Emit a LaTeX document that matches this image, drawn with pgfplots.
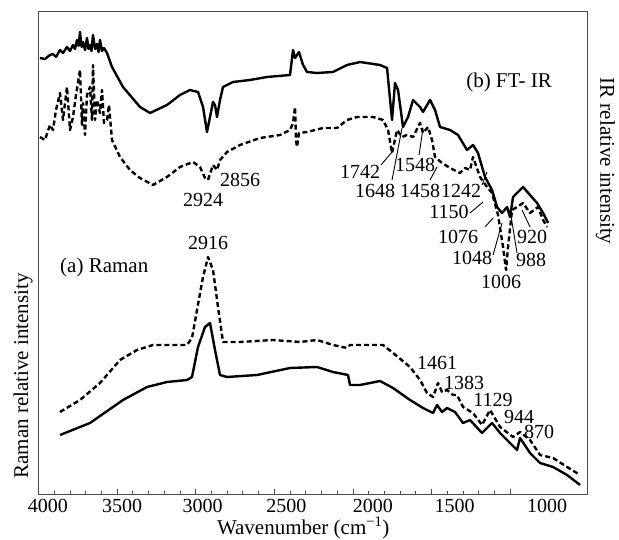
\documentclass[border=0pt]{standalone}
\usepackage{pgfplots}
\pgfplotsset{compat=1.18}
\usepackage{fontspec}
\setmainfont{Liberation Serif}
\newcommand{\lbl}{\fontsize{20bp}{24bp}\selectfont}
\newcommand{\txt}{\fontsize{21bp}{25bp}\selectfont}
\newcommand{\sh}[2]{\makebox[0pt]{\hspace*{#1}#2}}
\begin{document}
\begin{tikzpicture}
\begin{axis}[
  scale only axis, width=549.5bp, height=483bp,
  x dir=reverse, xmin=505, xmax=4000, ymin=0, ymax=483,
  axis line style={black!70, line width=1bp},
  xtick={1000,1500,2000,2500,3000,3500,4000},
  xticklabels={\sh{74bp}{1000},\sh{46bp}{1500},\sh{40bp}{2000},\sh{24bp}{2500},\sh{14bp}{3000},\sh{10bp}{3500},\sh{19bp}{4000}},
  minor x tick num=4,
  ytick=\empty,
  tick pos=bottom, tick align=inside,
  major tick length=6bp, minor tick length=3.5bp,
  tick style={black!70, line width=0.8bp},
  ticklabel style={font=\lbl},
  xticklabel style={inner sep=1bp, yshift=-3bp},
  xlabel={Wavenumber (cm\textsuperscript{−1})},
  xlabel style={font=\txt, inner sep=1bp, at={(axis description cs:0.5,0)}, anchor=base, xshift=-10bp, yshift=-39bp},
  clip=false,
  every axis plot/.append style={line width=2.4bp, line join=round},
]
% IR, solid
\addplot[black] coordinates {
(3990.5,437) (3958.7,436) (3926.9,440) (3907.8,441) (3888.7,438) (3863.2,445) (3844.2,442)
(3818.7,448) (3799.6,444) (3780.5,450) (3768.0,446) (3755.1,455) (3745.0,449) (3736.0,463)
(3726.0,448) (3716.9,453) (3704.0,445) (3691.5,457) (3682.0,446) (3672.4,450) (3663.0,444)
(3653.3,460) (3640.0,446) (3627.9,451) (3618.0,443) (3608.8,455) (3596.0,444) (3583.4,447)
(3564.3,442) (3532.5,428) (3462.5,408) (3354.4,388) (3290.8,382) (3182.6,390) (3099.9,400)
(3036.3,405) (2985.4,403) (2953.6,388) (2928.2,363) (2909.1,378) (2890.0,393) (2877.3,390)
(2864.6,378) (2845.5,395) (2826.4,408) (2762.8,413) (2654.6,415) (2546.5,418) (2400.2,420)
(2381.1,445) (2368.4,437) (2355.7,440) (2343.0,443) (2317.5,430) (2292.1,423) (2228.5,422)
(2126.7,423) (2037.7,430) (1954.9,433) (1827.7,430) (1783.2,427) (1751.4,375) (1732.3,412)
(1713.2,405) (1681.5,368) (1649.6,378) (1617.8,395) (1573.3,388) (1554.2,383) (1509.7,395)
(1477.9,385) (1446.1,368) (1382.5,365) (1331.6,360) (1274.5,345) (1236.3,350) (1204.5,342)
(1160.0,318) (1115.3,305) (1083.5,288) (1051.6,282) (1019.8,288) (1000.8,278) (981.7,298)
(949.9,303) (918.1,308) (873.6,300) (829.1,292) (790.9,282) (759.0,272)
};
% IR, dashed
\addplot[black, dash pattern=on 5bp off 3bp] coordinates {
(3990.5,358) (3958.7,355) (3926.9,370) (3907.8,365) (3888.7,385) (3863.2,402) (3844.2,375)
(3818.7,408) (3799.6,365) (3780.5,378) (3761.4,400) (3736.0,425) (3723.3,370) (3716.9,392)
(3704.2,360) (3691.5,400) (3672.4,408) (3659.7,375) (3653.3,430) (3640.6,375) (3627.9,395)
(3608.8,382) (3596.1,405) (3583.4,372) (3564.3,375) (3551.6,390) (3532.5,355) (3481.6,338)
(3418.0,325) (3354.4,317) (3271.7,310) (3182.6,318) (3099.9,328) (3017.2,333) (2972.7,328)
(2940.9,317) (2921.8,315) (2890.0,330) (2864.6,325) (2845.5,335) (2801.0,343) (2718.3,350)
(2591.0,357) (2463.8,360) (2400.2,365) (2381.1,372) (2368.4,388) (2362.0,355) (2355.7,348)
(2343.0,362) (2292.1,363) (2190.3,367) (2101.3,367) (2037.7,375) (1974.0,378) (1872.2,378)
(1808.6,375) (1776.8,365) (1751.4,342) (1719.6,365) (1687.8,358) (1656.0,360) (1617.8,358)
(1573.3,372) (1554.2,362) (1522.4,368) (1497.0,355) (1477.9,338) (1433.4,332) (1382.5,327)
(1318.9,322) (1287.2,327) (1255.4,325) (1236.3,338) (1191.8,318) (1147.3,308) (1115.3,302)
(1077.1,280) (1045.3,248) (1026.2,225) (1013.5,248) (988.0,285) (956.3,288) (918.1,292)
(873.6,282) (822.7,288) (790.9,275) (765.4,268)
};
% Raman, dashed
\addplot[black, dash pattern=on 5bp off 3bp] coordinates {
(3863.2,83) (3736.0,95) (3608.8,112) (3481.6,135) (3373.4,145) (3271.7,150) (3144.4,150)
(3055.4,150) (3023.6,157) (2991.8,185) (2953.6,218) (2921.8,238) (2890.0,225) (2858.2,188)
(2826.4,153) (2718.3,153) (2508.4,155) (2336.6,153) (2228.5,155) (2126.7,150) (2037.7,147)
(2018.6,150) (1910.4,150) (1808.6,150) (1745.0,142) (1636.9,128) (1573.3,115) (1528.8,102)
(1490.6,98) (1458.8,112) (1433.4,103) (1401.6,105) (1363.4,100) (1338.0,100) (1299.8,88)
(1236.3,82) (1179.1,70) (1128.0,85) (1064.4,68) (981.7,58) (937.2,63) (873.6,55)
(810.0,40) (727.1,37) (638.1,28) (555.4,20)
};
% Raman, solid
\addplot[black] coordinates {
(3863.2,60) (3672.4,72) (3462.5,95) (3309.8,108) (3182.6,113) (3055.4,115) (3023.6,118)
(2985.4,148) (2940.9,168) (2909.1,172) (2877.3,145) (2845.5,120) (2801.0,118) (2610.1,120)
(2400.2,127) (2228.5,128) (2126.7,123) (2031.3,120) (2018.6,110) (1954.9,110) (1827.7,114)
(1745.0,107) (1636.9,95) (1554.2,87) (1490.6,82) (1465.2,90) (1433.4,83) (1401.6,87)
(1350.7,83) (1299.8,72) (1255.4,75) (1179.1,62) (1115.3,72) (1064.4,62) (956.3,45)
(937.2,57) (873.6,42) (810.0,32) (727.1,28) (638.1,20) (555.4,10)
};
% annotations
\begin{scope}[every node/.style={font=\lbl, inner sep=0pt}]
\node at (2718.3,315) {2856};
\node at (2953.6,295) {2924};
\node at (2921.8,252) {2916};
\node[anchor=west, font=\txt] at (3863.2,228) {(a) Raman};
\node[font=\txt] at (1007.2,413) {(b) FT- IR};
\node at (1955,323) {1742};
\node at (1605,330) {1548};
\node at (1859.5,304) {1648};
\node at (1573.3,304) {1458};
\node at (1312.5,304) {1242};
\node at (1388.8,283) {1150};
\node at (1331.6,258) {1076};
\node at (1242.5,237) {1048};
\node at (867.2,235) {988};
\node at (860.9,258) {920};
\node at (1058,213) {1006};
\node at (1465.2,132) {1461};
\node at (1293.4,112) {1383};
\node at (1108.9,95) {1129};
\node at (943.5,78) {944};
\node at (816.3,63) {870};
\node[rotate=90, font=\txt] at (4098.6,119) {Raman relative intensity};
\node[rotate=-90, font=\txt] at (395,334) {IR relative intensity};
\end{scope}
\begin{scope}[line width=0.9bp]
\draw (1821.4,330) -- (1751.4,343);
\draw (1751.4,315) -- (1687.8,367);
\draw (1579.6,340) -- (1554.2,367);
\draw (1509.7,315) -- (1465.2,328);
\draw (1179.1,310) -- (1147.3,323);
\draw (1255.4,282) -- (1172.5,293);
\draw (1160.0,268) -- (1108.9,277);
\draw (1108.9,240) -- (1051.6,272);
\draw (956.3,242) -- (1000.8,285);
\draw (873.6,268) -- (924.5,285);
\end{scope}
\end{axis}
\pgfresetboundingbox
\path ([xshift=-38.5bp,yshift=-45bp]current axis.south west) rectangle ([xshift=31bp,yshift=12bp]current axis.north east);
\end{tikzpicture}
\end{document}
